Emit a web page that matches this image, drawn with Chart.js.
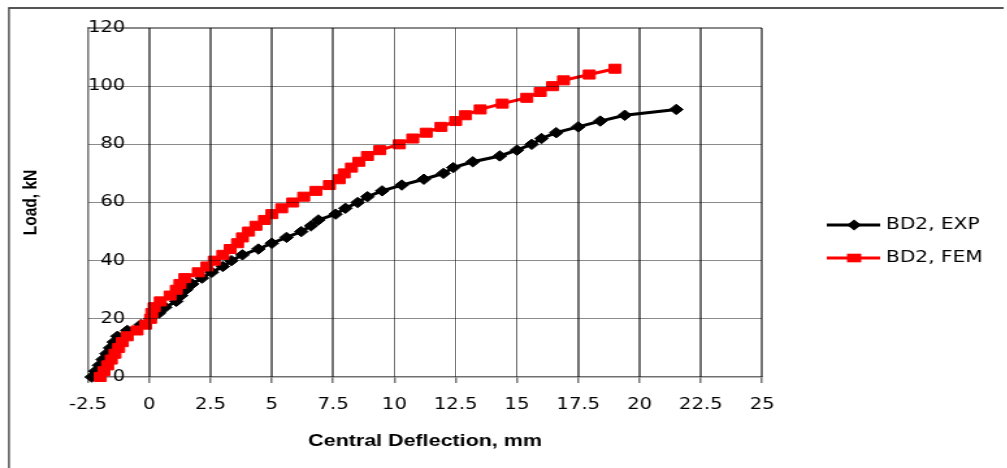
<!DOCTYPE html>
<html><head><meta charset="utf-8">
<script src="https://cdn.jsdelivr.net/npm/chart.js@4.4.0/dist/chart.umd.min.js"></script>
<style>
html,body{margin:0;padding:0;background:#fff;overflow:hidden;}
#wrap{position:relative;width:775px;height:468px;transform:scaleX(1.3);transform-origin:0 0;}
canvas{display:block;position:absolute;left:0;top:0;}
.gl{position:absolute;pointer-events:none;mix-blend-mode:multiply;}
</style></head><body>
<div id="wrap"><canvas id="c" width="775" height="468"></canvas></div>
<script>
// ---- data ----
const seriesNames = ['BD2, EXP', 'BD2, FEM'];
const expX = [-2.35,-2.2,-2.05,-1.9,-1.75,-1.6,-1.45,-1.3,-0.9,-0.35,0.05,0.4,0.65,1.1,1.3,1.5,1.75,2.15,2.55,3.0,3.35,3.8,4.45,5.0,5.6,6.2,6.6,6.9,7.6,8.0,8.5,8.9,9.5,10.3,11.2,12.0,12.4,13.2,14.3,15.0,15.6,16.0,16.6,17.5,18.4,19.4,21.5];
const expY = [0,2,4,6,8,10,12,14,16,18,20,22,24,26,28,30,32,34,36,38,40,42,44,46,48,50,52,54,56,58,60,62,64,66,68,70,72,74,76,78,80,82,84,86,88,90,92];
const femX = [-2.0,-1.85,-1.7,-1.55,-1.4,-1.25,-1.1,-0.9,-0.5,-0.15,0.05,0.1,0.2,0.45,0.85,1.1,1.25,1.45,2.0,2.35,2.65,3.0,3.3,3.6,3.8,4.05,4.35,4.7,5.0,5.4,5.85,6.3,6.8,7.35,7.75,7.95,8.25,8.55,8.9,9.4,10.2,10.75,11.3,11.9,12.5,12.9,13.5,14.4,15.4,15.95,16.45,16.9,17.95,19.0];
const femY = [0,2,4,6,8,10,12,14,16,18,20,22,24,26,28,30,32,34,36,38,40,42,44,46,48,50,52,54,56,58,60,62,64,66,68,70,72,74,76,78,80,82,84,86,88,90,92,94,96,98,100,102,104,106];
const xTicks = [-2.5,0,2.5,5,7.5,10,12.5,15,17.5,20,22.5,25];
const yTicks = [0,20,40,60,80,100,120];
const xTitle = 'Central Deflection, mm';
const yTitle = 'Load, kN';

const expColor = '#000000';
const femColor = '#ff0000';
const vGridColor = '#767676';
const hGridColor = '#8a8a8a';

const framePlugin = {
  id: 'frame',
  afterDraw(chart) {
    const ctx = chart.ctx;
    ctx.save();
    ctx.strokeStyle = '#555555';
    ctx.lineWidth = 1.5;
    ctx.beginPath(); ctx.moveTo(6.9, 8); ctx.lineTo(6.9, 468); ctx.stroke();
    ctx.lineWidth = 2;
    ctx.beginPath(); ctx.moveTo(6.2, 8); ctx.lineTo(772, 8); ctx.stroke();
    ctx.restore();
  }
};

const legendPlugin = {
  id: 'sideLegend',
  afterDraw(chart) {
    const ctx = chart.ctx;
    const items = [
      {text: seriesNames[0], color: expColor, shape: 'diamond', y: 225},
      {text: seriesNames[1], color: femColor, shape: 'square', y: 258}
    ];
    ctx.save();
    items.forEach(it => {
      ctx.strokeStyle = it.color;
      ctx.fillStyle = it.color;
      ctx.lineWidth = 3;
      ctx.beginPath(); ctx.moveTo(636, it.y); ctx.lineTo(677, it.y); ctx.stroke();
      const cx = 657;
      ctx.beginPath();
      if (it.shape === 'diamond') {
        ctx.moveTo(cx - 5.5, it.y); ctx.lineTo(cx, it.y - 5.5);
        ctx.lineTo(cx + 5.5, it.y); ctx.lineTo(cx, it.y + 5.5);
        ctx.closePath();
      } else {
        ctx.rect(cx - 5.5, it.y - 4.3, 11, 8.6);
      }
      ctx.fill();
      ctx.fillStyle = '#000';
      ctx.font = '15.5px "DejaVu Sans"';
      ctx.textBaseline = 'middle';
      ctx.textAlign = 'left';
      ctx.fillText(it.text, 681.5, it.y);
    });
    ctx.restore();
  }
};

// grid lines positioned from the library's scales (tick values -> pixels)
const gridPlugin = {
  id: 'gridLayer',
  afterDraw(chart) {
    const wrap = document.getElementById('wrap');
    wrap.querySelectorAll('.gl').forEach(el => el.remove());
    const {chartArea: a, scales: {x, y}} = chart;
    x.ticks.forEach(t => {
      if (t.value === x.min) return;
      const px = x.getPixelForValue(t.value);
      const d = document.createElement('div');
      d.className = 'gl';
      d.style.cssText = `left:${px - 0.75}px;top:${a.top}px;width:1.5px;height:${a.bottom - a.top}px;background:${vGridColor};`;
      wrap.appendChild(d);
    });
    y.ticks.forEach(t => {
      if (t.value === y.min) return;
      const py = y.getPixelForValue(t.value);
      const d = document.createElement('div');
      d.className = 'gl';
      d.style.cssText = `left:${a.left}px;top:${py - 0.65}px;width:${a.right - a.left}px;height:1.3px;background:${hGridColor};`;
      wrap.appendChild(d);
    });
  }
};

new Chart(document.getElementById('c'), {
  type: 'line',
  data: {
    datasets: [
      {
        label: seriesNames[0],
        data: expX.map((x, i) => ({x: x, y: expY[i]})),
        borderColor: expColor, backgroundColor: expColor,
        borderWidth: 3, tension: 0,
        pointStyle: 'rectRot', pointRadius: 5.2, pointBorderWidth: 1,
        pointBackgroundColor: expColor, pointBorderColor: expColor,
        order: 1, clip: false
      },
      {
        label: seriesNames[1],
        data: femX.map((x, i) => ({x: x, y: femY[i]})),
        borderColor: femColor, backgroundColor: femColor,
        borderWidth: 3, tension: 0,
        pointStyle: 'rect', pointRadius: 6.4, pointBorderWidth: 1,
        pointBackgroundColor: femColor, pointBorderColor: femColor,
        order: 0, clip: false
      }
    ]
  },
  options: {
    responsive: false,
    animation: false,
    events: [],
    font: { family: '"DejaVu Sans"' },
    layout: { padding: { left: 10, right: 188.8, top: 28, bottom: 17.1 } },
    plugins: { legend: { display: false }, tooltip: { enabled: false } },
    scales: {
      x: {
        type: 'linear', position: 'bottom', min: -2.5, max: 25,
        afterBuildTicks: s => { s.ticks = xTicks.map(v => ({value: v})); },
        ticks: { callback: v => String(v), font: {family: '"DejaVu Sans"', size: 15}, color: '#000', padding: 13, maxRotation: 0, autoSkip: false },
        grid: { display: true, drawOnChartArea: false, color: vGridColor, lineWidth: 1.5, drawTicks: true, tickLength: 6, tickColor: vGridColor, tickWidth: 1.5 },
        border: { display: true, color: '#707070', width: 1.5 },
        title: { display: true, text: xTitle, color: '#000', font: {family: '"Liberation Sans"', size: 16.5, weight: 'bold'}, padding: {top: 4.1, bottom: 0} }
      },
      y: {
        type: 'linear', position: 'left', min: 0, max: 120,
        afterBuildTicks: s => { s.ticks = yTicks.map(v => ({value: v})); },
        ticks: { mirror: true, crossAlign: 'far', padding: 0, callback: v => String(v), font: {family: '"DejaVu Sans"', size: 15}, color: '#000' },
        grid: { display: true, drawOnChartArea: false, color: hGridColor, lineWidth: 1.3, drawTicks: false },
        border: { display: true, color: '#707070', width: 1.5 },
        title: { display: true, text: yTitle, color: '#000', font: {family: '"Liberation Sans"', size: 15.5, weight: 'bold'}, padding: {top: 4.5, bottom: 34.6} }
      }
    }
  },
  plugins: [framePlugin, legendPlugin, gridPlugin]
});
</script>
</body></html>
